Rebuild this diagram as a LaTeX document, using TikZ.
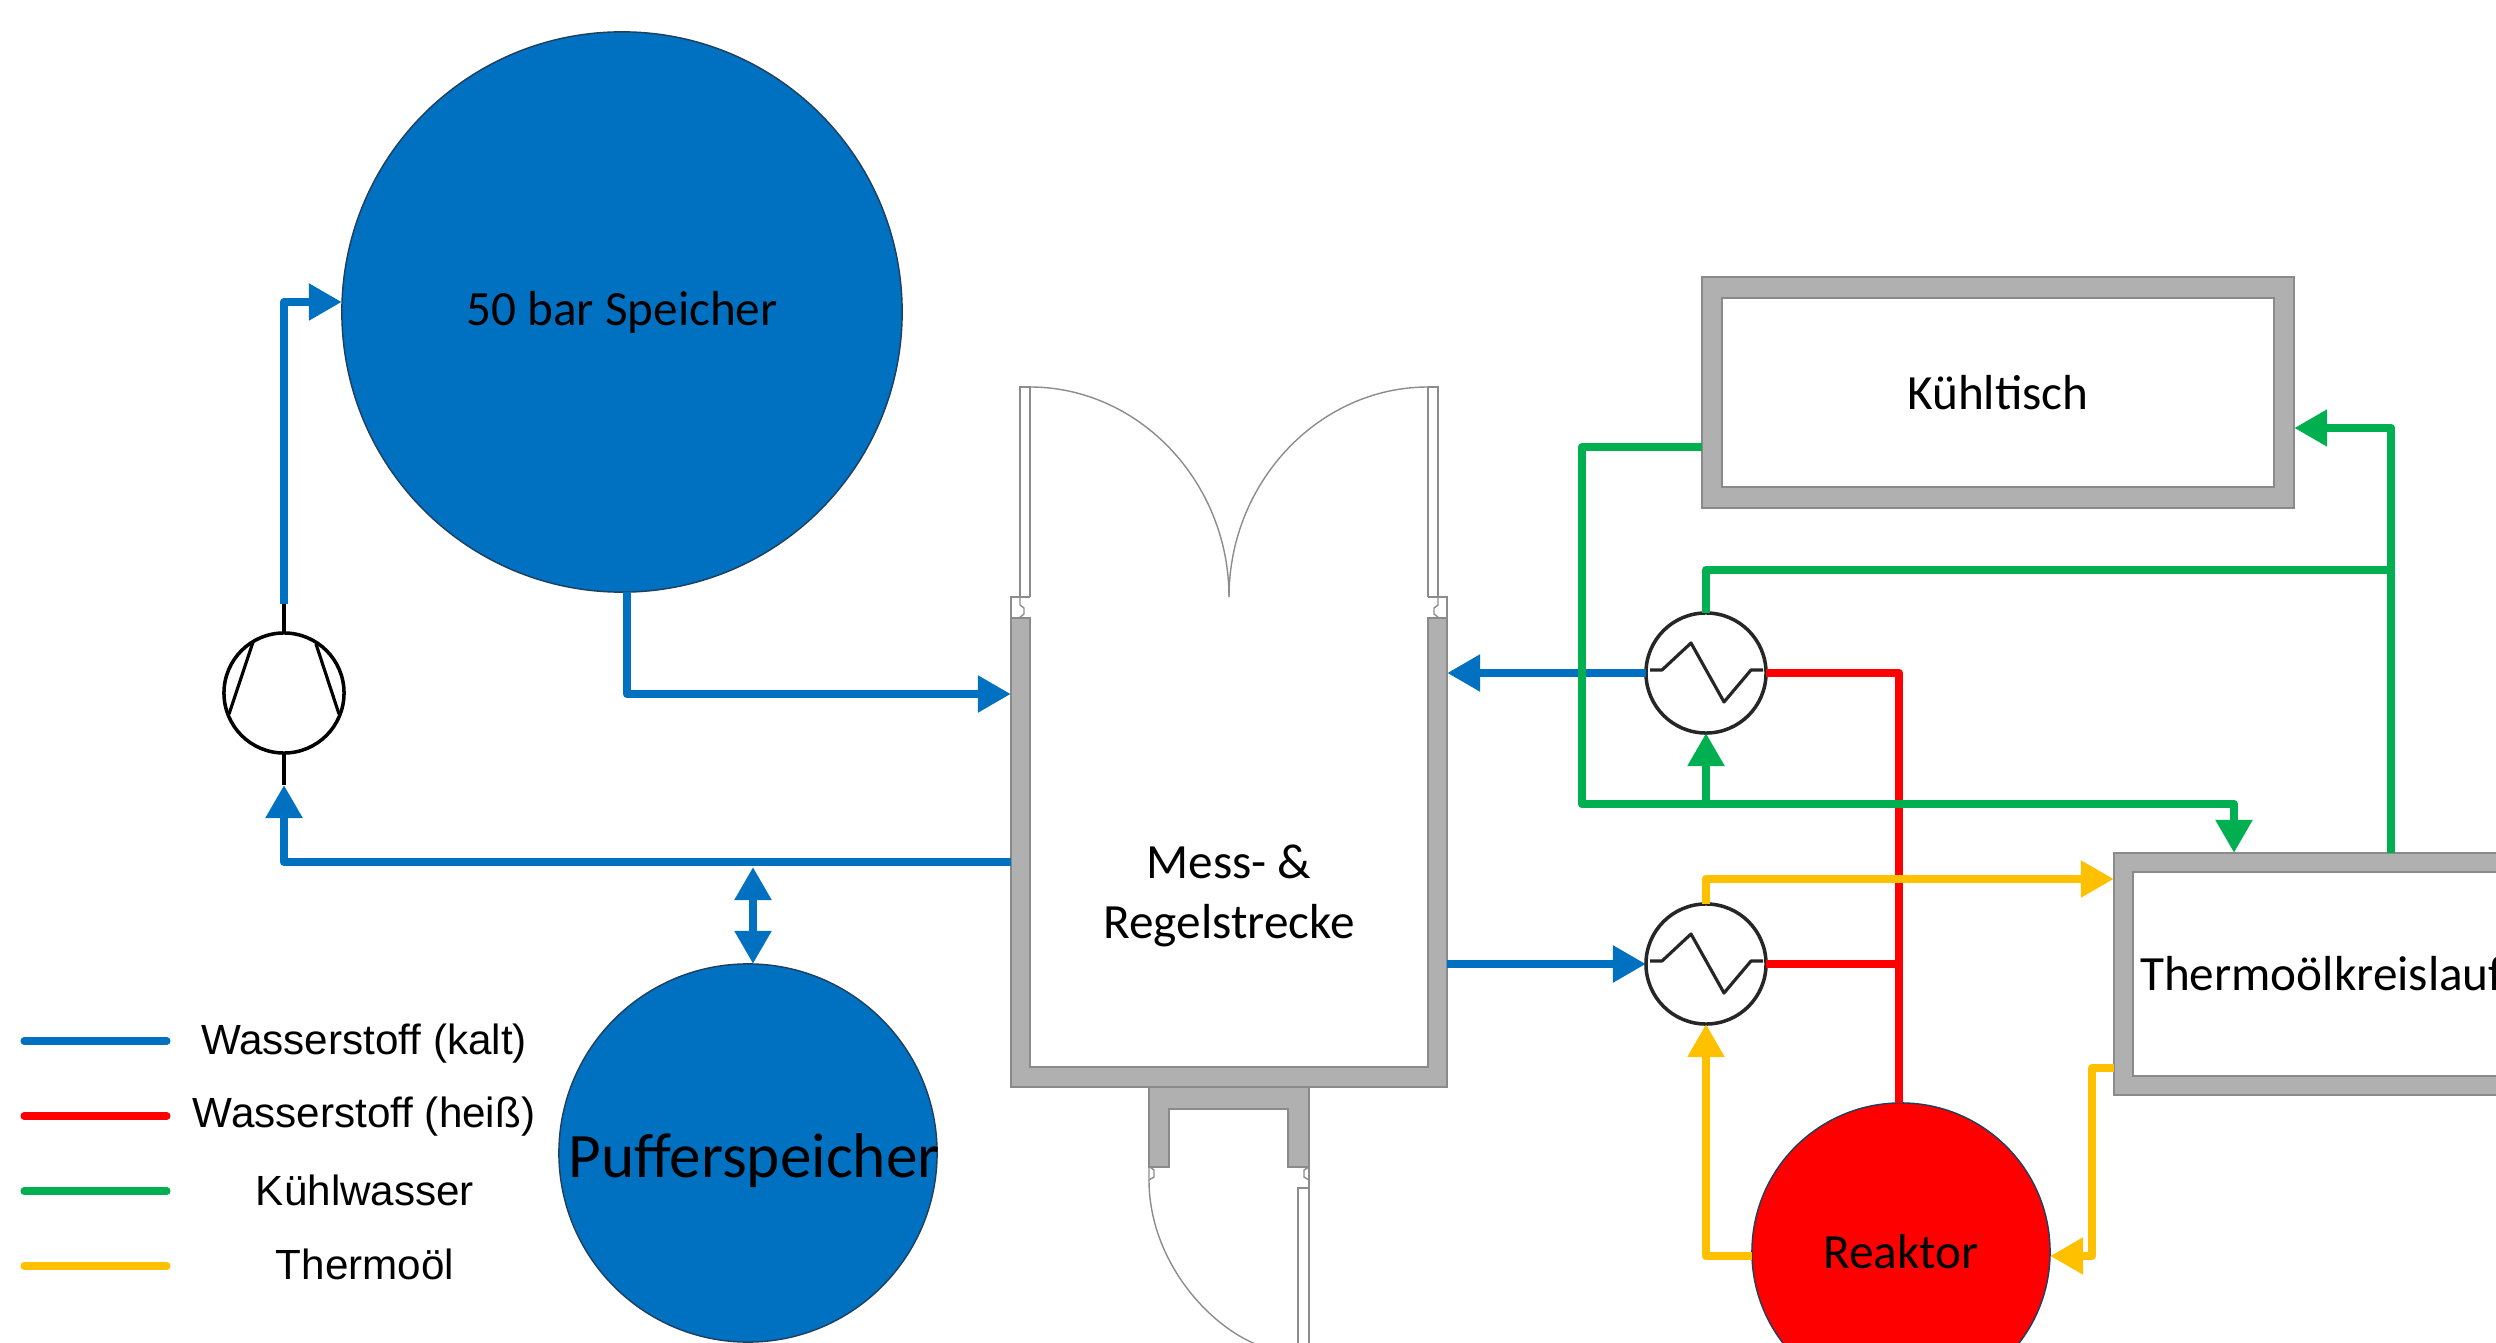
\documentclass[tikz,border=0pt]{standalone}
\usepackage{fontspec}
\setmainfont{Carlito}
\newfontfamily\legendfont{Liberation Sans}
\usepackage{xcolor}
\usetikzlibrary{arrows.meta,calc,positioning}
\definecolor{hblue}{HTML}{0070C0}
\definecolor{hred}{HTML}{FF0000}
\definecolor{cgreen}{HTML}{00B050}
\definecolor{oilgold}{HTML}{FFC000}
\definecolor{wallfill}{HTML}{B0B0B0}
\definecolor{wallline}{HTML}{8A8A8A}
\definecolor{tankline}{HTML}{1F3F5F}
\tikzset{
  tank/.style={circle, draw=tankline, line width=0.4pt, inner sep=0pt, outer sep=0pt, align=center},
  wallbox/.style={draw=wallline, fill=wallfill, line width=0.4pt, inner sep=0pt, outer sep=0pt},
  roombox/.style={draw=wallline, fill=white, line width=0.4pt, inner sep=0pt, outer sep=0pt, align=center, font=\fontsize{14}{17}\selectfont},
  wallpath/.style={draw=wallline, fill=wallfill, line width=0.4pt},
  doorline/.style={draw=black!45, line width=0.4pt},
  hxbox/.style={circle, draw=black!85, fill=white, line width=1pt, minimum size=1.2cm, inner sep=0pt, outer sep=0pt},
  hxline/.style={draw=black!85, line width=0.9pt, line join=round},
  pipe/.style={line width=2.45pt, line join=round},
  pipearrow/.style={pipe, -{Triangle[length=3.3mm,width=3.5mm]}},
  legendline/.style={line width=2.0pt, line cap=round},
  legendtext/.style={font=\legendfont\fontsize{12}{14}\selectfont}
}
\begin{document}
\begin{tikzpicture}[x=0.01cm,y=-0.01cm]
  \useasboundingbox (0,0) rectangle (2496,1343);
  \clip (0,0) rectangle (2496,1343);

  % tanks
  \node[tank, fill=hblue, minimum size=5.6cm, font=\fontsize{14}{17}\selectfont] (store) at (622,312) {50 bar Speicher};
  \node[tank, fill=hblue, minimum size=3.78cm] (buffer) at (748,1153) {};
  \node[font=\fontsize{18}{21}\selectfont, inner sep=0pt] (bufferlabel) at (754,1161) {Pufferspeicher};
  \node[tank, fill=hred, minimum size=2.98cm, font=\fontsize{14}{17}\selectfont] (reactor) at (1901,1252) {Reaktor};

  % room with doors
  \node[minimum width=4.36cm, minimum height=4.69cm, inner sep=0pt, outer sep=0pt] (room) at (1229,852.5) {};
  \draw[wallpath] (1011,618) -- (1011,1087) -- (1447,1087) -- (1447,618) -- (1428,618)
    -- (1428,1067) -- (1030,1067) -- (1030,618) -- cycle;
  \draw[wallpath] (1149,1087) -- (1309,1087) -- (1309,1167) -- (1288,1167) -- (1288,1109)
    -- (1169,1109) -- (1169,1167) -- (1149,1167) -- cycle;
  \node[align=center, font=\fontsize{14}{17}\selectfont, inner sep=0pt] (roomlabel) at (1229,896)
    {Mess- \&\\Regelstrecke};

  \draw[doorline] (1020,597) -- (1020,387) -- (1030,387) -- (1030,597);
  \draw[doorline] (1438,597) -- (1438,387) -- (1428,387) -- (1428,597);
  \draw[doorline] (1030,387) .. controls (1139,387) and (1229,482) .. (1229,597);
  \draw[doorline] (1428,387) .. controls (1319,387) and (1229,482) .. (1229,597);
  \draw[doorline] (1011,618) -- (1011,597) -- (1030,597);
  \draw[doorline] (1447,618) -- (1447,597) -- (1428,597);
  \draw[doorline] (1020,597) -- (1020,605) -- (1024,608) -- (1024,614) -- (1019,618);
  \draw[doorline] (1438,597) -- (1438,605) -- (1434,608) -- (1434,614) -- (1439,618);
  \draw[doorline] (1149,1167) -- (1149,1180) .. controls (1149,1268) and (1221,1340) .. (1275,1350);
  \draw[doorline] (1309,1167) -- (1309,1350);
  \draw[doorline] (1298,1350) -- (1298,1188) -- (1309,1188);
  \draw[doorline] (1150,1167) -- (1154,1170) -- (1154,1177) -- (1149,1180);
  \draw[doorline] (1309,1167) -- (1304,1170) -- (1304,1177) -- (1309,1180);

  % cooling table and oil loop
  \node[wallbox, minimum width=5.92cm, minimum height=2.31cm] (cooltable) at (1998,392.5) {};
  \node[roombox, minimum width=5.52cm, minimum height=1.89cm] (cooltext) at (cooltable) {K\"uhltisch};
  \node[wallbox, minimum width=4.16cm, minimum height=2.42cm] (oilloop) at (2322,974) {};
  \node[roombox, minimum width=3.78cm, minimum height=2.04cm] (oiltext) at (oilloop) {Thermo\"olkreislauf};

  % compressor
  \node[hxbox, draw=black] (comp) at (284,693) {};
  \draw[hxline, draw=black, shift={(comp)}] (-31,-51) -- (-55,21);
  \draw[hxline, draw=black, shift={(comp)}] (32,-49) -- (55,21);

  % heat exchangers
  \node[hxbox] (hxa) at (1706,673) {};
  \node[hxbox] (hxb) at (1706,964) {};
  \foreach \hx in {hxa,hxb}
    \draw[hxline, shift={(\hx)}] (-56,-3) -- (-44,-3) -- (-15,-30) -- (18,29) -- (45,-3) -- (57,-3);

  % hot hydrogen
  \coordinate (redtop) at (1899,673);
  \draw[pipe, hred] (hxa.east) -- (redtop) -- (redtop |- reactor.north);
  \draw[pipe, hred] (hxb.east) -- (redtop |- hxb);

  % cold hydrogen
  \coordinate (comptop) at (284,604);
  \coordinate (compin) at (284,785);
  \coordinate (storein) at (284,302);
  \coordinate (storedown) at (627,694);
  \coordinate (returnend) at (284,862);
  \coordinate (bufferarrow) at (753,867);
  \draw[line width=1.2pt] (comp.north) -- (comptop);
  \draw[line width=1.2pt] (comp.south) -- (compin);
  \draw[pipearrow, hblue] (comptop) -- (storein) -- (store.west |- storein);
  \draw[pipearrow, hblue] (storedown |- store.south) -- (storedown) -- (room.west |- storedown);
  \draw[pipearrow, hblue] (room.west |- returnend) -- (returnend) -- (compin);
  \draw[pipe, hblue, {Triangle[length=3.3mm,width=3.5mm]}-{Triangle[length=3.3mm,width=3.5mm]}] (bufferarrow) -- (bufferarrow |- buffer.north);
  \draw[pipearrow, hblue] (hxa.west) -- (room.east |- hxa);
  \draw[pipearrow, hblue] (room.east |- hxb) -- (hxb.west);

  % cooling water
  \coordinate (greenleft) at (1582,447);
  \coordinate (greenlow) at (1582,804);
  \coordinate (greendrop) at (2234,804);
  \coordinate (greenright) at (2391,428);
  \coordinate (greenbranch) at (2391,570);
  \draw[pipearrow, cgreen] (cooltable.west |- greenleft) -- (greenleft) -- (greenlow) -- (greendrop) -- (greendrop |- oilloop.north);
  \draw[pipearrow, cgreen] (hxa |- greenlow) -- (hxa.south);
  \draw[pipearrow, cgreen] (greenright |- oilloop.north) -- (greenright) -- (cooltable.east |- greenright);
  \draw[pipe, cgreen] (greenbranch) -- (hxa |- greenbranch) -- (hxa.north);

  % thermal oil
  \coordinate (oiltop) at (1706,879);
  \coordinate (oilreturn) at (2092,1068);
  \coordinate (oilleft) at (1706,1256);
  \draw[pipearrow, oilgold] (hxb.north) -- (oiltop) -- (oilloop.west |- oiltop);
  \draw[pipearrow, oilgold] (reactor.west |- oilleft) -- (oilleft) -- (hxb.south);
  \draw[pipearrow, oilgold] (oilloop.west |- oilreturn) -- (oilreturn) -- (oilreturn |- oilleft) -- (reactor.east |- oilleft);

  % legend
  \coordinate (lega) at (24,1041);
  \coordinate (legb) at (24,1116);
  \coordinate (legc) at (24,1191);
  \coordinate (legd) at (24,1266);
  \draw[legendline, hblue] (lega) -- +(143,0);
  \draw[legendline, hred] (legb) -- +(143,0);
  \draw[legendline, cgreen] (legc) -- +(143,0);
  \draw[legendline, oilgold] (legd) -- +(143,0);
  \node[legendtext] (legtexta) at (364,1044) {Wasserstoff (kalt)};
  \node[legendtext] (legtextb) at (364,1117) {Wasserstoff (hei\ss)};
  \node[legendtext] (legtextc) at (365,1190) {K\"uhlwasser};
  \node[legendtext] (legtextd) at (365,1264) {Thermo\"ol};

\end{tikzpicture}
\end{document}
